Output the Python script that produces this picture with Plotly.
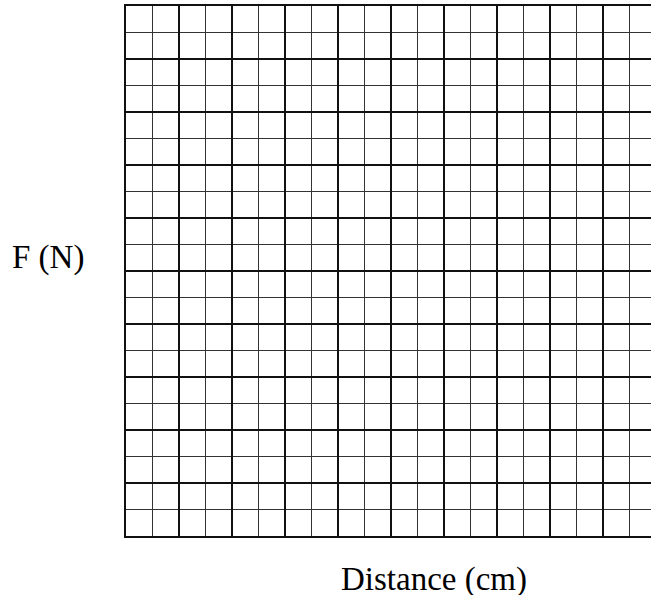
import plotly.graph_objects as go

# blank graph paper worksheet: 20 x 20 cells, heavier line every 2 cells
x_label = 'Distance (cm)'
y_label = 'F (N)'
n_cols = 20
n_rows = 20
major_step = 2
minor_step = 1

cell_px = 26.5
fig_w, fig_h = 651, 595
left, top, bottom = 126, 6, 59

fig = go.Figure(go.Scatter(x=[], y=[], mode='markers'))

plot_w = fig_w - left
x_max = plot_w / cell_px  # grid runs past the right edge of the page

axis_common = dict(showticklabels=False, ticks='', zeroline=False,
                   showgrid=True, gridcolor='#111111', gridwidth=2,
                   dtick=major_step, tick0=0,
                   minor=dict(dtick=minor_step, tick0=0, showgrid=True,
                              gridcolor='#333333', gridwidth=1.2),
                   showline=True, linecolor='#111111', linewidth=2,
                   fixedrange=True)

fig.update_layout(
    width=fig_w, height=fig_h,
    margin=dict(l=left, r=0, t=top, b=bottom),
    plot_bgcolor='white', paper_bgcolor='white',
    showlegend=False,
    xaxis=dict(range=[0, x_max], mirror=True, **axis_common),
    yaxis=dict(range=[0, n_rows], mirror=False, **axis_common),
    font=dict(family='Liberation Serif', color='black'),
    annotations=[
        dict(text=y_label, xref='paper', yref='y', x=0, y=10.5,
             xanchor='right', yanchor='middle', xshift=-40,
             showarrow=False, font=dict(size=33)),
        dict(text=x_label, xref='x', yref='paper', x=(433.5 - left) / cell_px, y=0,
             xanchor='center', yanchor='middle', yshift=-43,
             showarrow=False, font=dict(size=33)),
    ],
)

fig.write_html('out.html', config={'displayModeBar': False},
               post_script="document.body.style.margin='0';")
